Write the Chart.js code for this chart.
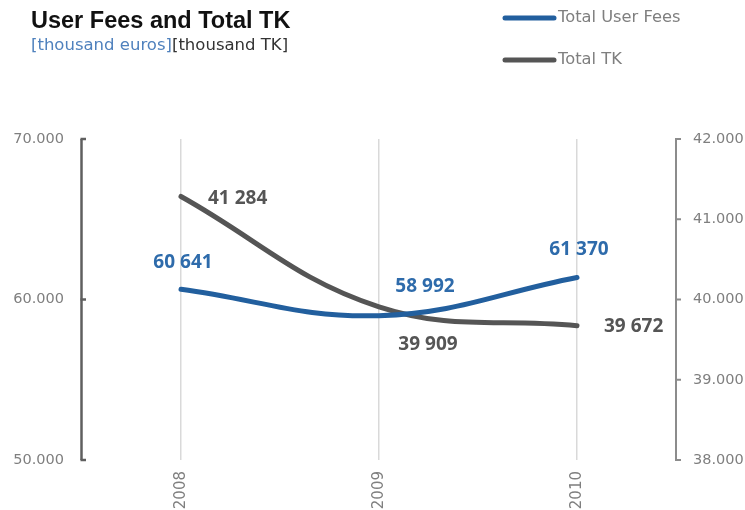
<!DOCTYPE html>
<html>
<head>
<meta charset="utf-8">
<script src="https://cdn.jsdelivr.net/npm/chart.js@4/dist/chart.umd.min.js"></script>
<style>
  html, body { margin: 0; padding: 0; background: #ffffff; }
  #wrap { position: relative; width: 745px; height: 510px; }
</style>
</head>
<body>
<div id="wrap"><canvas id="c" width="745" height="510"></canvas></div>
<script>
// Years on the category axis
const years = ['2008', '2009', '2010'];
// Total user fees, thousand euros (left axis)
const userFees = [60641, 58992, 61370];
// Total TK, thousand TK (right axis)
const totalTK = [41284, 39909, 39672];
// Axis tick values
const leftTicks = [50000, 60000, 70000];
const rightTicks = [38000, 39000, 40000, 41000, 42000];

const BLUE = '#225f9e';
const BLUE_TXT = '#2e6bab';
const GREY = '#555555';
const AXIS_TXT = '#7f7f7f';
const SANS = '"DejaVu Sans", sans-serif';

// offsets of the value labels relative to their points [dx, dy], with text alignment
const labelPlacement = [
  [[2, -27, 'center'], [46, -29, 'center'], [2, -28, 'center']],
  [[27, 2, 'left'], [49, 38, 'center'], [27, 1, 'left']]
];

const fmtTick = v => String(v).replace(/\B(?=(\d{3})+(?!\d))/g, '.');
const fmtVal = v => String(v).replace(/\B(?=(\d{3})+(?!\d))/g, ' ');

const valueLabels = {
  id: 'valueLabels',
  afterDatasetsDraw(chart) {
    const ctx = chart.ctx;
    ctx.save();
    ctx.font = 'bold 19px "Open Sans", sans-serif';
    ctx.textBaseline = 'middle';
    chart.data.datasets.forEach((ds, i) => {
      const meta = chart.getDatasetMeta(i);
      meta.data.forEach((pt, j) => {
        const [dx, dy, align] = labelPlacement[i][j];
        ctx.fillStyle = i === 0 ? BLUE_TXT : GREY;
        ctx.textAlign = align;
        ctx.fillText(fmtVal(ds.data[j]), pt.x + dx, pt.y + dy);
      });
    });
    ctx.restore();
  }
};

const decor = {
  id: 'decor',
  beforeDatasetsDraw(chart) {
    const ctx = chart.ctx;
    const a = chart.chartArea;
    const yl = chart.scales.y;
    const yr = chart.scales.y1;
    ctx.save();
    // left axis with inward ticks
    ctx.strokeStyle = '#5f5f5f';
    ctx.lineWidth = 2.5;
    ctx.beginPath();
    ctx.moveTo(a.left - 0.5, yl.getPixelForValue(leftTicks[0]));
    ctx.lineTo(a.left - 0.5, yl.getPixelForValue(leftTicks[leftTicks.length - 1]));
    ctx.stroke();
    leftTicks.forEach(v => {
      const y = yl.getPixelForValue(v);
      ctx.beginPath();
      ctx.moveTo(a.left - 1.5, y);
      ctx.lineTo(a.left + 4, y);
      ctx.stroke();
    });
    // right axis with outward ticks
    ctx.strokeStyle = '#8c8c8c';
    ctx.lineWidth = 2;
    ctx.beginPath();
    ctx.moveTo(a.right, yr.getPixelForValue(rightTicks[0]));
    ctx.lineTo(a.right, yr.getPixelForValue(rightTicks[rightTicks.length - 1]));
    ctx.stroke();
    rightTicks.forEach(v => {
      const y = yr.getPixelForValue(v);
      ctx.beginPath();
      ctx.moveTo(a.right - 1, y);
      ctx.lineTo(a.right + 5, y);
      ctx.stroke();
    });
    ctx.restore();
  },
  afterDraw(chart) {
    const ctx = chart.ctx;
    ctx.save();
    // title and units
    ctx.textBaseline = 'alphabetic';
    ctx.textAlign = 'left';
    ctx.fillStyle = '#111111';
    ctx.font = 'bold 23.5px "Liberation Sans", sans-serif';
    ctx.fillText('User Fees and Total TK', 31, 28);
    ctx.font = '16.5px ' + SANS;
    ctx.fillStyle = '#4f81bd';
    const part1 = '[thousand euros]';
    ctx.fillText(part1, 31, 50);
    const w = ctx.measureText(part1).width;
    ctx.fillStyle = '#333333';
    ctx.fillText('[thousand TK]', 31 + w, 50);
    // legend
    const items = [[chart.data.datasets[0], 18], [chart.data.datasets[1], 60]];
    items.forEach(([ds, y]) => {
      ctx.strokeStyle = ds.borderColor;
      ctx.lineWidth = 5;
      ctx.lineCap = 'round';
      ctx.beginPath();
      ctx.moveTo(505, y);
      ctx.lineTo(554, y);
      ctx.stroke();
      ctx.fillStyle = AXIS_TXT;
      ctx.font = '16.3px ' + SANS;
      ctx.textBaseline = 'middle';
      ctx.fillText(ds.label, 558, y);
    });
    ctx.restore();
  }
};

new Chart(document.getElementById('c'), {
  type: 'line',
  data: {
    labels: years,
    datasets: [
      {
        label: 'Total User Fees',
        data: userFees,
        yAxisID: 'y',
        borderColor: BLUE,
        borderWidth: 5,
        borderCapStyle: 'round',
        tension: 0.4,
        pointRadius: 0,
        fill: false
      },
      {
        label: 'Total TK',
        data: totalTK,
        yAxisID: 'y1',
        borderColor: GREY,
        borderWidth: 5,
        borderCapStyle: 'round',
        tension: 0.4,
        pointRadius: 0,
        fill: false
      }
    ]
  },
  options: {
    responsive: false,
    animation: false,
    layout: { padding: { top: 139, left: 0, right: 0, bottom: 0 } },
    plugins: {
      legend: { display: false },
      title: { display: false },
      tooltip: { enabled: false }
    },
    scales: {
      x: {
        type: 'category',
        offset: true,
        border: { display: false },
        grid: { display: true, offset: false, drawTicks: false, color: '#d9d9d9', lineWidth: 1.5 },
        ticks: {
          minRotation: 90, maxRotation: 90, padding: 11,
          color: AXIS_TXT, font: { family: 'DejaVu Sans', size: 15 }
        },
        afterFit(s) { s.height = 50; }
      },
      y: {
        position: 'left',
        min: 50000, max: 70000,
        border: { display: false },
        grid: { display: false, drawTicks: false },
        ticks: {
          stepSize: 10000, padding: 18,
          color: AXIS_TXT, font: { family: 'DejaVu Sans', size: 14.5 },
          callback: v => fmtTick(v)
        },
        afterFit(s) { s.width = 82; }
      },
      y1: {
        position: 'right',
        min: 38000, max: 42000,
        border: { display: false },
        grid: { display: false, drawTicks: false },
        ticks: {
          stepSize: 1000, padding: 17,
          color: AXIS_TXT, font: { family: 'DejaVu Sans', size: 14.5 },
          callback: v => fmtTick(v)
        },
        afterFit(s) { s.width = 69; }
      }
    }
  },
  plugins: [decor, valueLabels]
});
</script>
</body>
</html>
